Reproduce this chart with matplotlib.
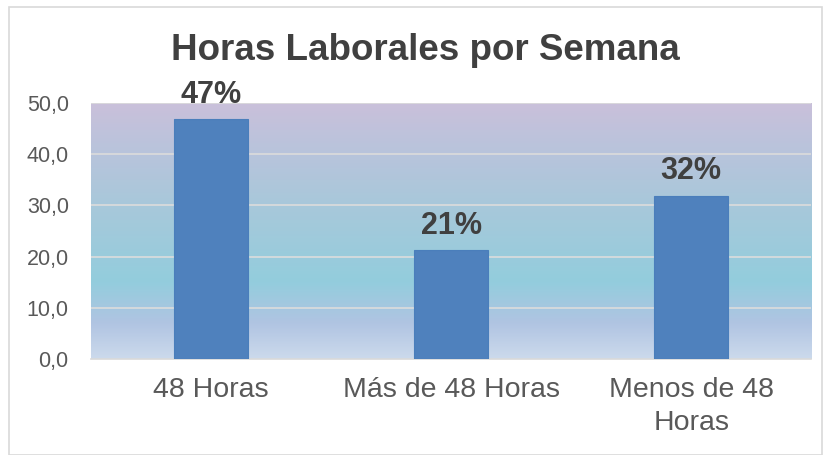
import numpy as np
import matplotlib.pyplot as plt
from matplotlib.colors import LinearSegmentedColormap
from matplotlib.patches import Rectangle

plt.rcParams['font.family'] = ['Liberation Sans', 'DejaVu Sans']

categorias = ['48 Horas', 'Más de 48 Horas', 'Menos de 48\nHoras']
valores = [46.8, 21.3, 31.9]
etiquetas = ['47%', '21%', '32%']
yticks = [0, 10, 20, 30, 40, 50]

fig = plt.figure(figsize=(8.27, 4.55), dpi=100)
ax = fig.add_axes([0.110, 0.211, 0.871, 0.563])

# fondo degradado del area de trazado
stops = [(0.0, '#CCDAEC'), (0.14, '#B0C4E2'), (0.30, '#93CDDD'),
         (0.60, '#A8C8DA'), (0.84, '#BBC3DC'), (1.0, '#CAC0DA')]
cmap = LinearSegmentedColormap.from_list('fondo', stops)
grad = np.linspace(0, 1, 256).reshape(-1, 1)
ax.imshow(grad, cmap=cmap, origin='lower', aspect='auto',
          extent=[-0.5, 2.5, 0, 50], zorder=0)

x = np.arange(len(categorias))
ax.bar(x, valores, width=0.31, color='#4F81BD', edgecolor='#4A7EBB',
       linewidth=0.8, zorder=3)

for xi, v, t in zip(x, valores, etiquetas):
    ax.text(xi, v + 1.8, t, ha='center', va='bottom', fontsize=22,
            fontweight='bold', color='#404040', zorder=4)

ax.set_xlim(-0.5, 2.5)
ax.set_ylim(0, 50)
ax.set_yticks(yticks)
ax.set_yticklabels([f'{v:.1f}'.replace('.', ',') for v in yticks],
                   fontsize=15.5, color='#595959')
ax.set_xticks(x)
ax.set_xticklabels(categorias, fontsize=20.5, color='#595959', linespacing=1.35)
ax.tick_params(length=0)
ax.tick_params(axis='y', pad=16)
ax.tick_params(axis='x', pad=13)

for v in yticks[1:]:
    ax.axhline(v, color='#DCDCDC', linewidth=1.2, zorder=2)
for s in ['left', 'right', 'top']:
    ax.spines[s].set_visible(False)
ax.spines['bottom'].set_color('#D9D9D9')
ax.spines['bottom'].set_linewidth(1.2)

fig.text(0.514, 0.888, 'Horas Laborales por Semana', ha='center', va='center',
         fontsize=26.5, fontweight='bold', color='#404040')

fig.patches.append(Rectangle((0.011, 0.0), 0.983, 0.985, transform=fig.transFigure,
                             fill=False, edgecolor='#D9D9D9', linewidth=1.2))

fig.savefig('out.png', dpi=100)
